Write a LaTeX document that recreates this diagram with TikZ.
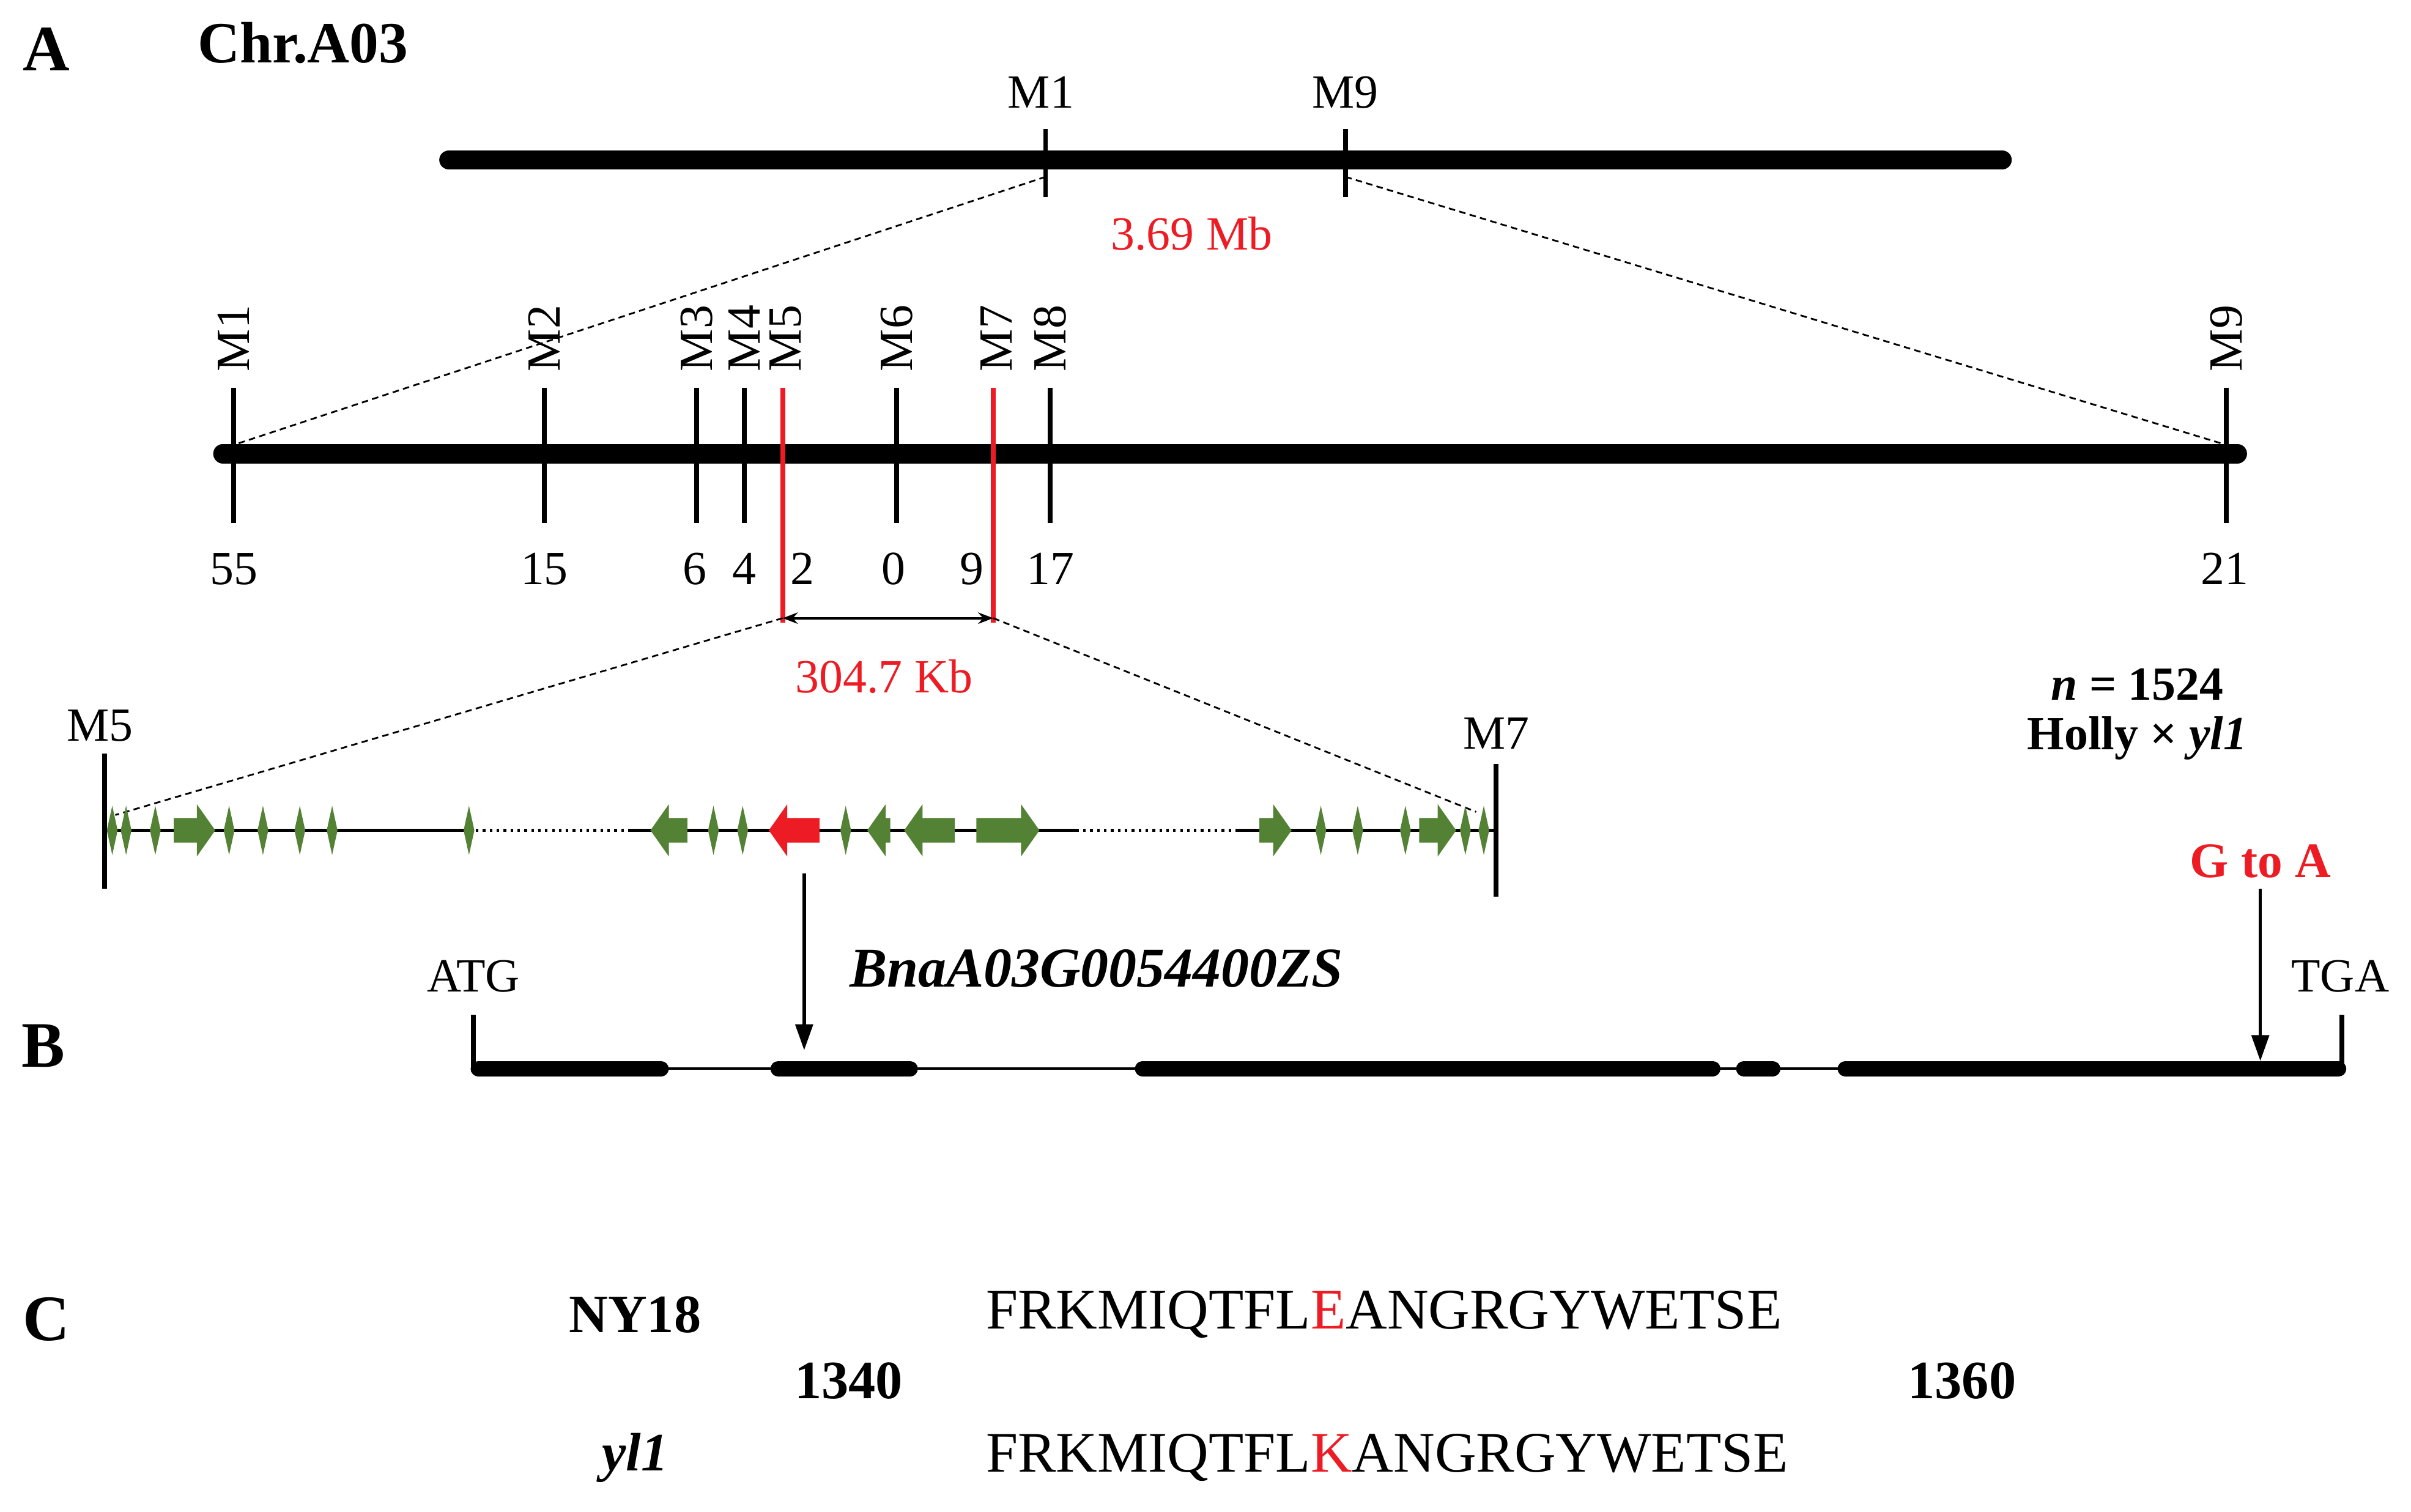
\documentclass[tikz,border=0pt]{standalone}
\usepackage{fontspec}
\setmainfont{Liberation Serif}
\usetikzlibrary{arrows.meta}
\definecolor{gg}{RGB}{84,130,53}
\definecolor{rr}{RGB}{237,28,36}
\tikzset{
  lab/.style={font=\fontsize{22}{24}\selectfont, inner sep=0pt},
  big/.style={font=\fontsize{30}{32}\selectfont\bfseries, inner sep=0pt},
  seq/.style={font=\fontsize{26.5}{28}\selectfont, inner sep=0pt, anchor=west},
  chrom/.style={line width=9pt, line cap=round},
  tick/.style={line width=2.2pt},
  rtick/.style={line width=2.2pt, draw=rr},
  zoomline/.style={line width=0.8pt, dash pattern=on 3pt off 2pt},
  exon/.style={line width=7pt, line cap=round},
  arr/.style={line width=1.6pt, -{Triangle[length=12pt,width=8pt]}}
}
\newcommand{\spk}[1]{\fill[gg] (#1-3.5,540) -- (#1,524) -- (#1+3.5,540) -- (#1,556) -- cycle;}
\newcommand{\rarr}[3]{\fill[#3] (#1,532) -- (#2-12,532) -- (#2-12,523) -- (#2,540) -- (#2-12,557) -- (#2-12,548) -- (#1,548) -- cycle;}
\newcommand{\larr}[3]{\fill[#3] (#2,532) -- (#1+12,532) -- (#1+12,523) -- (#1,540) -- (#1+12,557) -- (#1+12,548) -- (#2,548) -- cycle;}
\begin{document}
\begin{tikzpicture}[x=0.025cm,y=-0.025cm]
\useasboundingbox (0,0) rectangle (1568,983);
% A
\node[big] (A) at (30,32) {A};
\node[big,font=\fontsize{27}{30}\selectfont\bfseries] (chr) at (197,28) {Chr.A03};
\draw[chrom] (292,104) -- (1302,104);
\coordinate (t1) at (680,115); \coordinate (t9) at (875,115);
\draw[tick] (680,84) -- (680,128); \draw[tick] (875,84) -- (875,128);
\node[lab] (lM1) at (677,60) {M1};
\node[lab] (lM9) at (875,60) {M9};
\node[lab,text=rr] (mb) at (775,152) {3.69 Mb};
% second chromosome
\draw[chrom] (145,295) -- (1455,295);
\coordinate (b1) at (150,290); \coordinate (b9) at (1450,290);
\draw[zoomline] (t1) -- (b1); \draw[zoomline] (t9) -- (b9);
\foreach \x/\m/\n/\nx in {152/M1/55/152,354/M2/15/354,453/M3/6/452,484/M4/4/484,583/M6/0/581,683/M8/17/683,1448/M9/21/1447}{
  \draw[tick] (\x,252) -- (\x,340);
  \node[lab,rotate=90] at (\x,220) {\m};
  \node[lab] at (\nx,370) {\n};
}
\draw[rtick] (509,252) -- (509,405); \node[lab,rotate=90] at (511,220) {M5}; \node[lab] at (522,370) {2};
\draw[rtick] (646,252) -- (646,405); \node[lab,rotate=90] at (648,220) {M7}; \node[lab] at (632,370) {9};
\coordinate (r5) at (509,402); \coordinate (r7) at (646,402);
\draw[line width=1.2pt,{Stealth[length=7pt]}-{Stealth[length=7pt]}] (r5) -- (r7);
\node[lab,text=rr] (kb) at (575,440) {304.7 Kb};
\node[lab,font=\fontsize{22}{24}\selectfont\bfseries] (n) at (1390,445) {\textit{n} = 1524};
\node[lab,font=\fontsize{22}{24}\selectfont\bfseries] (holly) at (1390,480) {Holly × \textit{yl1}};
% gene region
\node[lab] (gM5) at (65,472) {M5};
\node[lab] (gM7) at (973,477) {M7};
\draw[tick] (68,490) -- (68,578);
\draw[tick] (973,497) -- (973,583);
\coordinate (g5) at (75,530); \coordinate (g7) at (960,528);
\draw[zoomline] (r5) -- (g5); \draw[zoomline] (r7) -- (g7);
\draw[line width=1.6pt] (68,540) -- (305,540);
\draw[line width=1.2pt,dotted] (305,540) -- (410,540);
\draw[line width=1.6pt] (410,540) -- (700,540);
\draw[line width=1.2pt,dotted] (700,540) -- (805,540);
\draw[line width=1.6pt] (805,540) -- (973,540);
\foreach \x in {73,82,101,149,171,195,216,305,464,483,550,859,883,914,953,965}{\spk{\x}}
\rarr{113}{140}{gg}
\larr{423}{447}{gg}
\larr{500}{533}{rr}
\larr{564}{579}{gg}
\larr{588}{621}{gg}
\rarr{635}{676}{gg}
\rarr{819}{840}{gg}
\rarr{923}{947}{gg}
% B
\node[big] (B) at (28,680) {B};
\coordinate (g1) at (523,568); \coordinate (g1e) at (523,683);
\draw[arr] (g1) -- (g1e);
\node[lab,font=\fontsize{26}{28}\selectfont\bfseries\itshape] (gname) at (713,630) {BnaA03G0054400ZS};
\node[lab] (atg) at (308,635) {ATG};
\node[lab] (tga) at (1522,635) {TGA};
\draw[tick] (308,660) -- (308,697);
\draw[tick] (1523,660) -- (1523,697);
\draw[line width=1.2pt] (308,695) -- (1523,695);
\foreach \a/\b in {311/430,506/592,743/1114,1134/1153,1200/1521}{\draw[exon] (\a,695) -- (\b,695);}
\node[lab,text=rr,font=\fontsize{23}{24}\selectfont\bfseries] (gta) at (1470,560) {G to A};
\coordinate (m1) at (1470,578); \coordinate (m2) at (1470,690);
\draw[arr] (m1) -- (m2);
% C
\node[big] (C) at (30,858) {C};
\node[lab,font=\fontsize{25}{28}\selectfont\bfseries] (ny) at (413,855) {NY18};
\node[lab,font=\fontsize{25}{28}\selectfont\bfseries\itshape] (yl) at (413,948) {yl1};
\node[lab,font=\fontsize{25}{28}\selectfont\bfseries] (p1) at (552,898) {1340};
\node[lab,font=\fontsize{25}{28}\selectfont\bfseries] (p2) at (1276,898) {1360};
\node[seq] (s1) at (641,855) {FRKMIQTFL\textcolor{rr}{E}ANGRGYWETSE};
\node[seq] (s2) at (641,948) {FRKMIQTFL\textcolor{rr}{K}ANGRGYWETSE};
\end{tikzpicture}
\end{document}
